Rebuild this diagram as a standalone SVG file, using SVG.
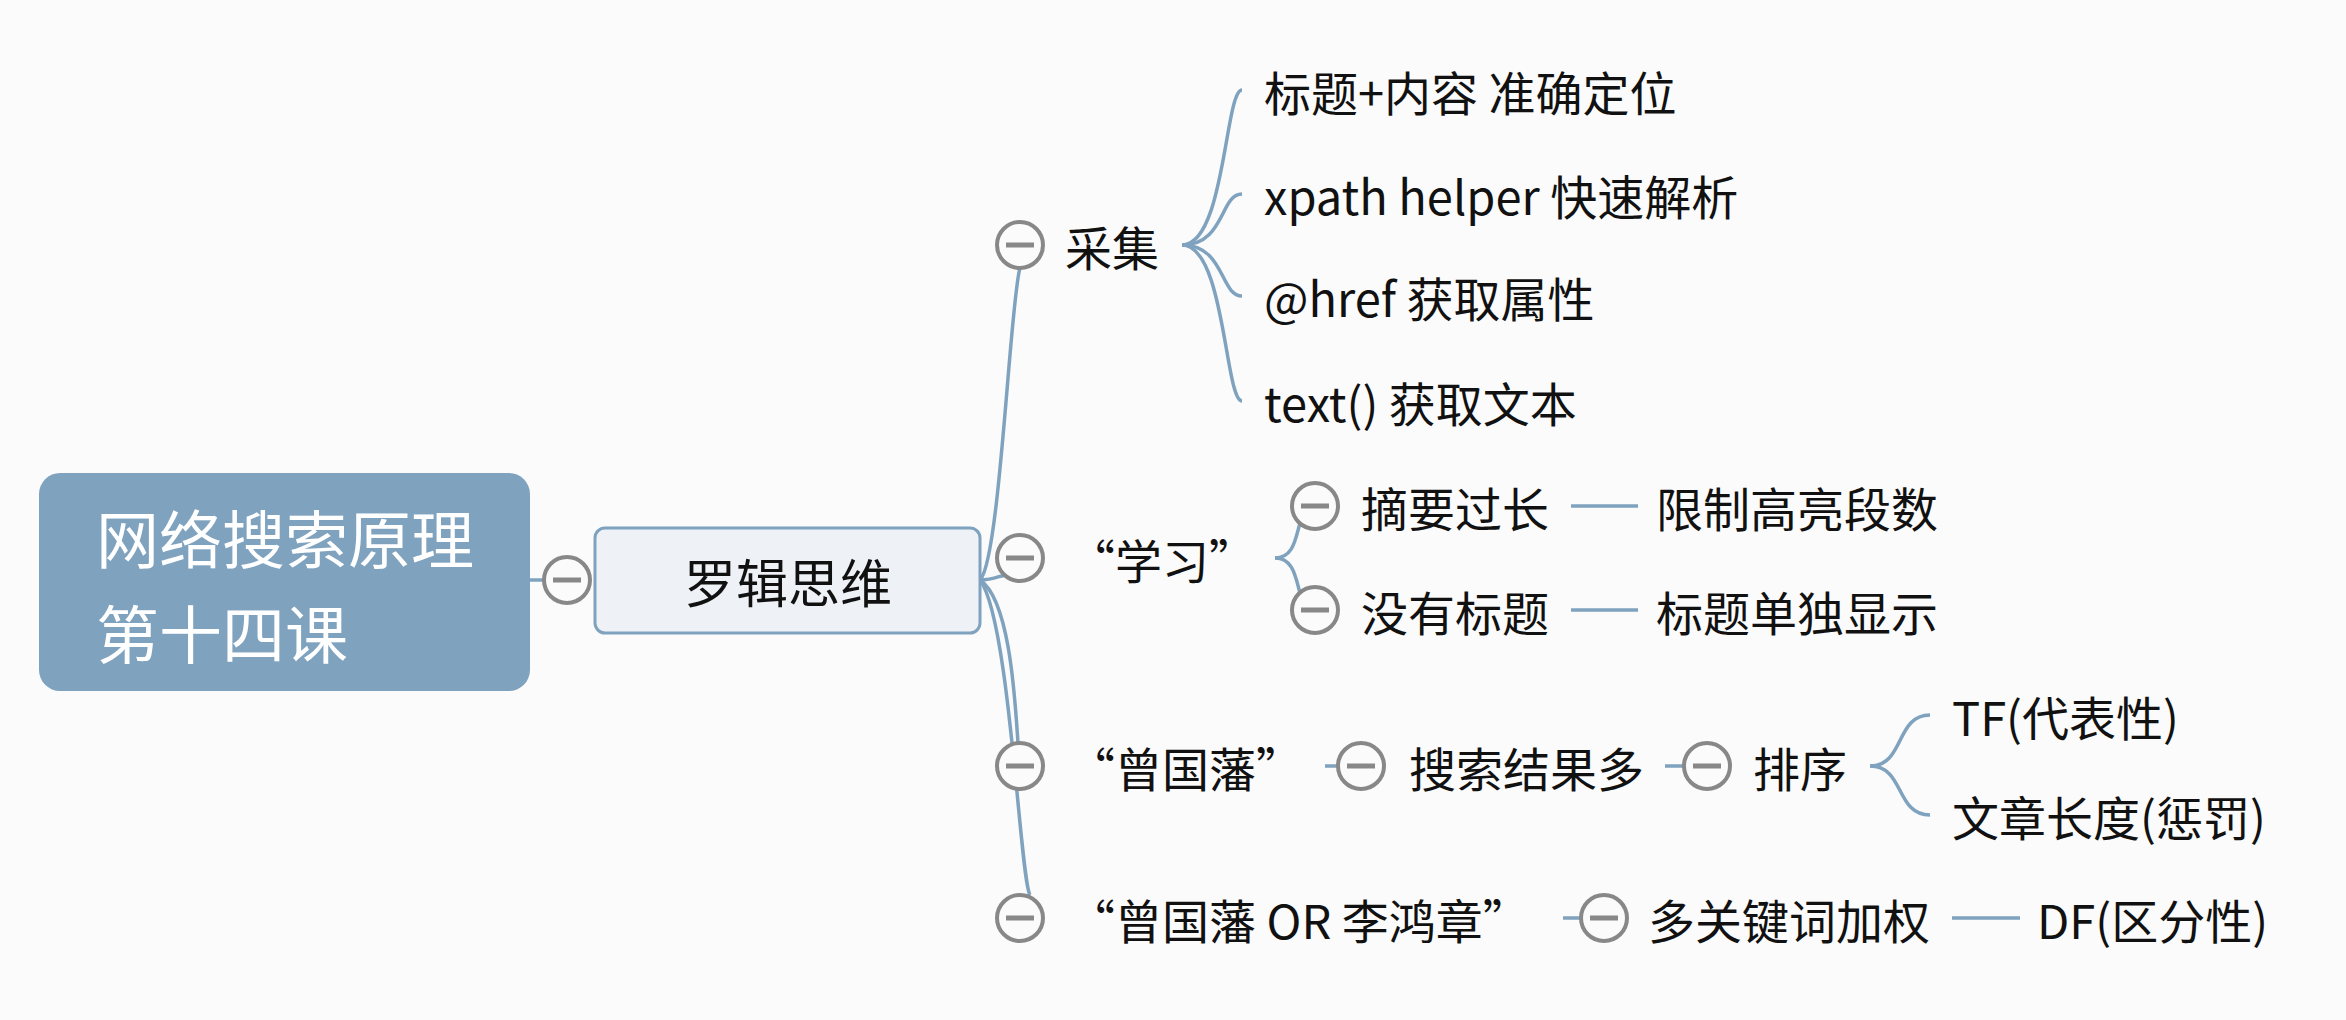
<svg xmlns="http://www.w3.org/2000/svg" width="2346" height="1020" viewBox="0 0 2346 1020">
<style>
text{font-family:"Noto Sans CJK SC","Noto Sans",sans-serif;fill:#111;font-size:47px;dominant-baseline:central}
.c{fill:#fbfbfb;stroke:#888;stroke-width:4}
.m{stroke:#888;stroke-width:5}
.l{fill:none;stroke:#7fa2bf;stroke-width:3.5}
</style>
<defs><g id="col"><circle class="c" r="23"/><line class="m" x1="-14" x2="14"/></g></defs>
<rect width="2346" height="1020" fill="#fbfbfb"/>
<g id="connectors">
<path class="l" d="M530 580H545"/>
<path class="l" d="M980 580C1000 560 1010 300 1020 268"/>
<path class="l" d="M980 580C1000 580 1005 570 1015 578"/>
<path class="l" d="M980 580C1010 600 1015 700 1018 743"/>
<path class="l" d="M980 580C1010 620 1020 880 1030 895"/>
<path class="l" d="M1182 245C1225 245 1225 90 1242 90"/>
<path class="l" d="M1182 245C1225 245 1220 194 1242 194"/>
<path class="l" d="M1182 245C1225 245 1220 296 1242 296"/>
<path class="l" d="M1182 245C1225 245 1225 401 1242 401"/>
<path class="l" d="M1275 558C1305 558 1292 506 1315 506"/>
<path class="l" d="M1275 558C1305 558 1292 610 1315 610"/>
<path class="l" d="M1571 506H1638M1571 610H1638"/>
<path class="l" d="M1325 766H1338M1665 766H1684"/>
<path class="l" d="M1870 766C1905 766 1895 715 1930 715"/>
<path class="l" d="M1870 766C1905 766 1895 815 1930 815"/>
<path class="l" d="M1563 918H1581M1952 918H2020"/>
</g>
<g id="root"><rect x="39" y="473" width="491" height="218" rx="21" fill="#7fa2bf"/>
<text x="96" y="535" style="fill:#fff;font-size:63px">网络搜索原理</text>
<text x="96" y="630" style="fill:#fff;font-size:63px">第十四课</text>
<use href="#col" x="567" y="580"/></g>
<g id="luoji"><rect x="595" y="528" width="385" height="105" rx="10" fill="#eef2f6" stroke="#7fa2bf" stroke-width="3"/>
<text x="788" y="580" text-anchor="middle" style="font-size:52px">罗辑思维</text></g>
<g id="caiji"><use href="#col" x="1020" y="245"/><text x="1065" y="245">采集</text></g>
<g id="c1"><text x="1264" y="90">标题+内容 准确定位</text></g>
<g id="c2"><text x="1264" y="194">xpath helper 快速解析</text></g>
<g id="c3"><text x="1264" y="296">@href 获取属性</text></g>
<g id="c4"><text x="1264" y="401">text() 获取文本</text></g>
<g id="xuexi"><use href="#col" x="1020" y="558"/><text x="1068" y="558">“学习”</text></g>
<g id="zy"><use href="#col" x="1315" y="506"/><text x="1361" y="506">摘要过长</text></g>
<g id="xz"><text x="1656" y="506">限制高亮段数</text></g>
<g id="my"><use href="#col" x="1315" y="610"/><text x="1361" y="610">没有标题</text></g>
<g id="bt"><text x="1656" y="610">标题单独显示</text></g>
<g id="zgf"><use href="#col" x="1020" y="766"/><text x="1068" y="766">“曾国藩”</text></g>
<g id="ss"><use href="#col" x="1361" y="766"/><text x="1409" y="766">搜索结果多</text></g>
<g id="px"><use href="#col" x="1707" y="766"/><text x="1753" y="766">排序</text></g>
<g id="tf"><text x="1952" y="715">TF(代表性)</text></g>
<g id="wz"><text x="1952" y="815">文章长度(惩罚)</text></g>
<g id="zl"><use href="#col" x="1020" y="918"/><text x="1068" y="918">“曾国藩 OR 李鸿章”</text></g>
<g id="dg"><use href="#col" x="1604" y="918"/><text x="1648" y="918">多关键词加权</text></g>
<g id="df"><text x="2037" y="918">DF(区分性)</text></g>
</svg>
